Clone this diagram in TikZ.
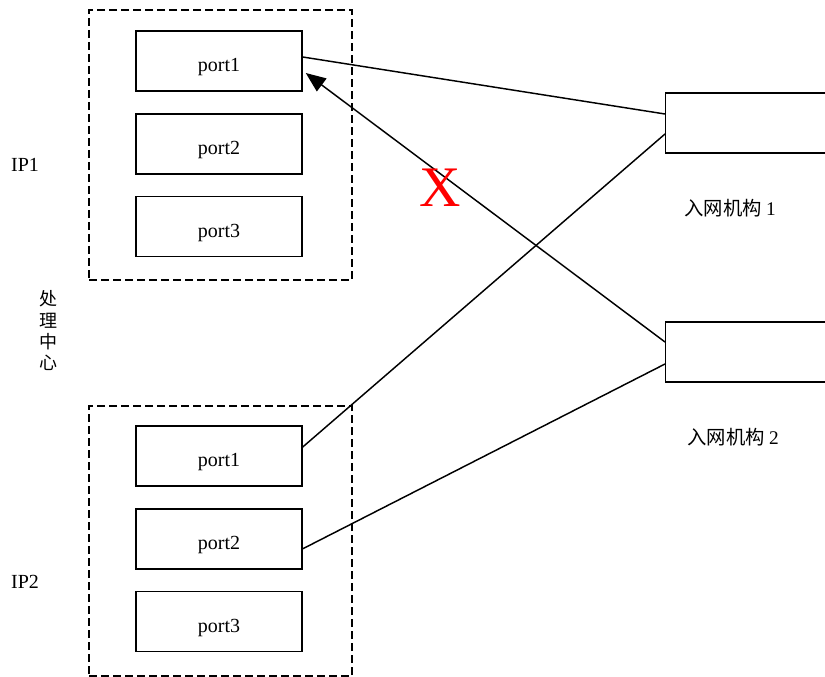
\documentclass[tikz,border=0pt]{standalone}
\usepackage{fontspec}
\setmainfont{Liberation Serif}
\newfontfamily\cjk{Noto Sans CJK SC}
\usepackage{xcolor}
\usetikzlibrary{positioning,arrows.meta}

\begin{document}
\begin{tikzpicture}[
    x=0.75pt, y=-0.75pt,
    font=\fontsize{15}{17}\selectfont,
    group/.style = {draw, dashed, dash pattern=on 6pt off 3pt, line width=1.3pt,
                    minimum width=197.25pt, minimum height=202.5pt},
    port/.style  = {draw, line width=1.1pt, minimum width=124.5pt,
                    minimum height=45pt, inner sep=0pt,
                    text height=16pt, text depth=0pt},
    org/.style   = {draw, line width=1.1pt, minimum width=150pt,
                    minimum height=45pt, inner sep=0pt},
    link/.style  = {line width=1.1pt},
    lbl/.style   = {inner sep=0pt},
    zh/.style    = {inner sep=0pt, font=\cjk\fontsize{14.5}{16}\selectfont},
]

\useasboundingbox (0,0) rectangle (825,677);
\clip (0,0) rectangle (825,677);

%% ── IP1 ───────────────────────────────────────────────────────────────────
\node[group] (ip1) at (220.5, 145) {};
\node[port] (p11) at (219, 61) {port1};
\node[port, below=16pt of p11] (p12) {port2};
\node[port, below=16pt of p12] (p13) {port3};
\node[lbl] (lip1) at (25, 165) {IP1};

%% ── IP2 ───────────────────────────────────────────────────────────────────
\node[group] (ip2) at (220.5, 541) {};
\node[port] (p21) at (219, 456) {port1};
\node[port, below=16pt of p21] (p22) {port2};
\node[port, below=16pt of p22] (p23) {port3};
\node[lbl] (lip2) at (25, 582) {IP2};

\node[zh, align=center, font=\cjk\fontsize{13.5}{16}\selectfont] (center)
  at (48, 331) {处\\理\\中\\心};

%% ── Access organisations ──────────────────────────────────────────────────
\node[org, anchor=west] (org1) at (665, 123) {};
\node[org, anchor=west] (org2) at (665, 352) {};
\node[zh] (lorg1) at (730, 208) {入网机构 {\rmfamily 1}};
\node[zh] (lorg2) at (733, 437) {入网机构 {\rmfamily 2}};

%% ── Links ─────────────────────────────────────────────────────────────────
\draw[link] ([yshift=3pt]p11.east) -- ([yshift=6.75pt]org1.west);
\draw[link] ([yshift=6.75pt]p21.east) -- ([yshift=-8.25pt]org1.west);
\draw[link] ([yshift=-7.5pt]p22.east) -- ([yshift=-9pt]org2.west);
\draw[link, -{Triangle[length=15pt, width=12pt]}]
  ([yshift=7.5pt]org2.west) -- ([xshift=2.25pt, yshift=-9pt]p11.east);

\node[text=red, font=\fontsize{43}{43}\selectfont, inner sep=0pt] (cut)
  at (440, 188) {X};

\end{tikzpicture}
\end{document}
